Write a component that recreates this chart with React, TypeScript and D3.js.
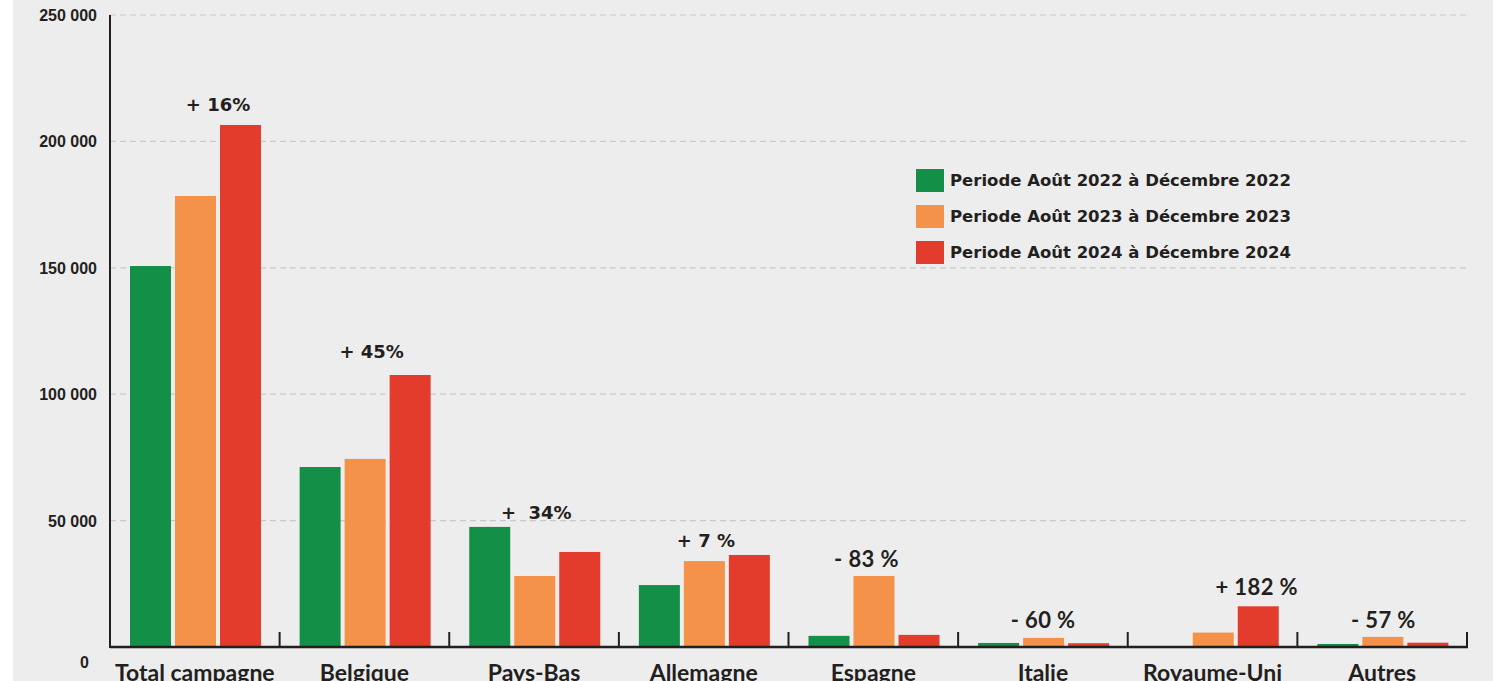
import React from 'react';
import * as d3 from 'd3';

// chart data
const categories = ['Total campagne', 'Belgique', 'Pays-Bas', 'Allemagne', 'Espagne', 'Italie', 'Royaume-Uni', 'Autres'];
const seriesNames = [
  'Periode Août 2022 à Décembre 2022',
  'Periode Août 2023 à Décembre 2023',
  'Periode Août 2024 à Décembre 2024',
];
const values2022 = [150700, 71200, 47500, 24500, 4400, 1600, 0, 1200];
const values2023 = [178400, 74400, 28100, 34000, 28100, 3600, 5700, 4000];
const values2024 = [206500, 107600, 37600, 36400, 4800, 1500, 16100, 1700];
const changeLabels = ['+ 16%', '+ 45%', '+  34%', '+ 7 %', '- 83 %', '- 60 %', '+ 182 %', '- 57 %'];
const yTicks = [0, 50000, 100000, 150000, 200000, 250000];

const colors = ['#138f47', '#f5924a', '#e33b2c'];
const ink = '#231f20';

// annotation placement (offset from band start, gap above tallest bar, font)
const labelLayout = [
  { dx: 108, gap: 14, wide: true },
  { dx: 92, gap: 17, wide: true },
  { dx: 87, gap: 8, wide: true },
  { dx: 87, gap: 8, wide: true },
  { dx: 78, gap: 9, wide: false },
  { dx: 85, gap: 10, wide: false },
  { dx: 129, gap: 11, wide: false },
  { dx: 86, gap: 9, wide: false },
];

const fmt = d3.formatLocale({ decimal: ',', thousands: ' ', grouping: [3], currency: ['', ''] }).format(',');

const App = () => {
  const width = 1493;
  const height = 681;
  const left = 110;
  const right = 1467;
  const top = 15;
  const bottom = 647;

  const series = [values2022, values2023, values2024];

  const x = d3.scaleBand<string>().domain(categories).range([left, right]).paddingInner(0).paddingOuter(0);
  const xs = d3.scaleBand<number>().domain([0, 1, 2]).range([20, 151]).paddingInner(0.089).paddingOuter(0);
  const y = d3.scaleLinear().domain([0, 250000]).range([bottom, top]);

  const groupMax = categories.map((_, i) => d3.max(series, s => s[i]) as number);

  return (
    <div style={{ position: 'absolute', left: 0, top: 0 }}>
      <svg width={width} height={height} style={{ display: 'block' }}>
        <rect x={0} y={0} width={width} height={height} fill="#ffffff" />
        <rect x={13} y={0} width={width - 13} height={height} fill="#ededed" />

        {/* gridlines */}
        {yTicks.filter(t => t > 0).map(t => (
          <line key={t} x1={left} x2={right} y1={y(t)} y2={y(t)} stroke="#c9c9c9" strokeWidth={1.2} strokeDasharray="6 4" />
        ))}

        {/* y tick labels */}
        {yTicks.map(t => (
          <text
            key={t}
            x={t === 0 ? 89 : 97}
            y={t === 0 ? y(t) + 21 : y(t) + 6}
            textAnchor="end"
            fontFamily="'Liberation Sans Narrow', 'Liberation Sans', sans-serif"
            fontWeight={700}
            fontSize={16}
            fill={ink}
          >
            {fmt(t)}
          </text>
        ))}

        {/* bars */}
        {categories.map((c, i) => (
          <g key={c} transform={`translate(${x(c)},0)`}>
            {series.map((s, j) =>
              s[i] > 0 ? (
                <rect key={j} x={xs(j)} y={y(s[i])} width={xs.bandwidth()} height={bottom - y(s[i])} fill={colors[j]} />
              ) : null
            )}
          </g>
        ))}

        {/* axes */}
        <line x1={left} x2={left} y1={top} y2={bottom + 1} stroke={ink} strokeWidth={2} />
        <line x1={left} x2={right + 1} y1={bottom} y2={bottom} stroke={ink} strokeWidth={2.5} />
        {categories.map(c => (
          <line key={c} x1={(x(c) as number) + x.bandwidth()} x2={(x(c) as number) + x.bandwidth()} y1={bottom - 15} y2={bottom} stroke={ink} strokeWidth={2} />
        ))}

        {/* category labels */}
        {categories.map(c => (
          <text
            key={c}
            x={(x(c) as number) + x.bandwidth() / 2}
            y={681}
            textAnchor="middle"
            fontFamily="Lato, sans-serif"
            fontWeight={700}
            fontSize={23}
            fill={ink}
          >
            {c}
          </text>
        ))}

        {/* change annotations */}
        {categories.map((c, i) => {
          const l = labelLayout[i];
          return (
            <text
              key={c}
              x={(x(c) as number) + l.dx}
              y={y(groupMax[i]) - l.gap}
              textAnchor="middle"
              fontFamily={l.wide ? "'DejaVu Sans', sans-serif" : 'Lato, sans-serif'}
              fontWeight={700}
              fontSize={l.wide ? 18 : 22}
              letterSpacing={l.wide ? 0 : 0.4}
              fill={ink}
              style={{ whiteSpace: 'pre' }}
            >
              {changeLabels[i]}
            </text>
          );
        })}

        {/* legend */}
        {seriesNames.map((n, j) => (
          <g key={n} transform={`translate(916,${169 + j * 36})`}>
            <rect x={0} y={0} width={28} height={23} fill={colors[j]} />
            <text x={34} y={17} fontFamily="'DejaVu Sans', sans-serif" fontWeight={700} fontSize={16.5} fill={ink}>
              {n}
            </text>
          </g>
        ))}
      </svg>
    </div>
  );
};

export default App;
